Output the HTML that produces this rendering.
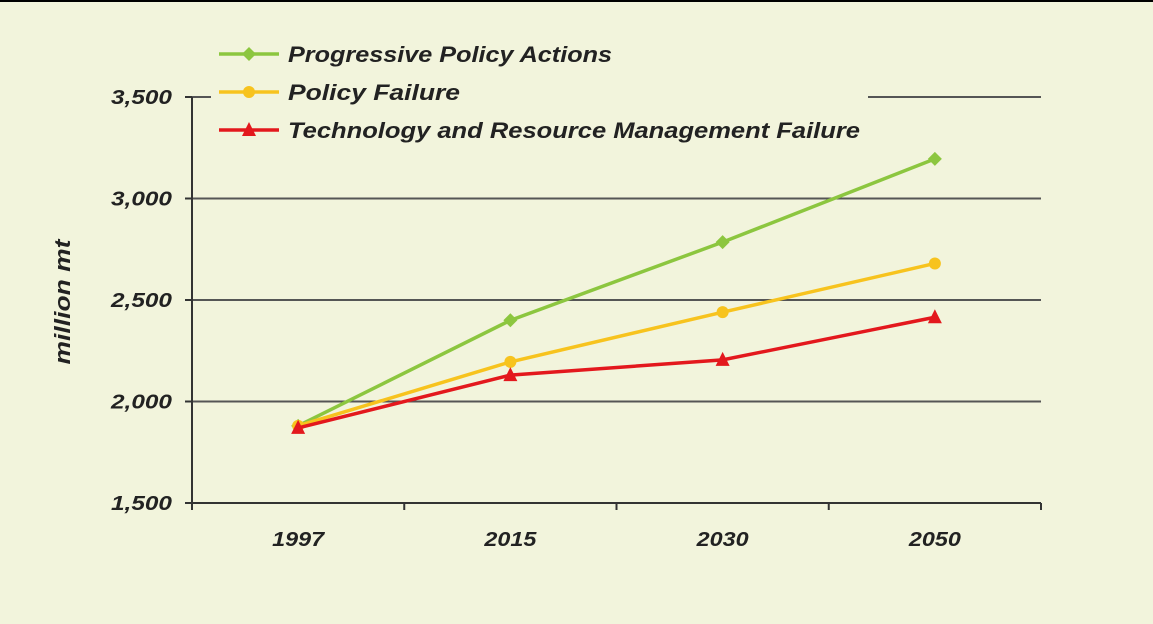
<!DOCTYPE html>
<html><head><meta charset="utf-8"><style>
html,body{margin:0;padding:0;background:#f2f4dc;}
svg{display:block;font-family:"Liberation Sans",Arial,sans-serif;font-weight:bold;font-style:italic;}
</style></head><body>
<svg id="chart" width="1153" height="624" viewBox="0 0 1153 624">
<rect x="0" y="0" width="1153" height="624" fill="#f2f4dc"/>
<rect x="0" y="0" width="1153" height="2" fill="#000"/>
<g id="grid"></g>
<g id="axes"></g>
<g id="series"></g>
<g id="legend"></g>
<text x="70" y="302" transform="rotate(-90 70 302)" text-anchor="middle" font-size="22" textLength="125" lengthAdjust="spacingAndGlyphs" fill="#222">million mt</text>
</svg>
<script>
const categories = ["1997","2015","2030","2050"];
const yTicks = [1500,2000,2500,3000,3500];
const yTickLabels = ["1,500","2,000","2,500","3,000","3,500"];
const progressive = [1880,2400,2785,3195];
const policyFailure = [1880,2195,2440,2680];
const techFailure = [1870,2130,2205,2415];
const seriesNames = ["Progressive Policy Actions","Policy Failure","Technology and Resource Management Failure"];
const legendWidths = [324,172,572];

const NS="http://www.w3.org/2000/svg";
const X0=192,X1=1041,Y0=503,Y1=97,VMIN=1500,VMAX=3500;
const yS=v=>Y0-(v-VMIN)/(VMAX-VMIN)*(Y0-Y1);
const band=(X1-X0)/categories.length;
const xS=i=>X0+band*(i+0.5);
function mk(tag,attrs,parent){const e=document.createElementNS(NS,tag);for(const k in attrs)e.setAttribute(k,attrs[k]);parent.appendChild(e);return e;}
const grid=document.getElementById('grid'),axes=document.getElementById('axes'),ser=document.getElementById('series'),leg=document.getElementById('legend');

yTicks.forEach((v,i)=>{
  const y=yS(v);
  if(v>VMIN){const g=mk('line',{x1:X0,x2:X1,y1:y,y2:y,stroke:'#555',"stroke-width":2},grid);
  
  }
  const t=mk('line',{x1:X0-7,x2:X0,y1:y,y2:y,stroke:'#333',"stroke-width":2},axes);
  
  
  const l=mk('text',{x:172,y:y+7,"text-anchor":"end","font-size":20,textLength:61,lengthAdjust:"spacingAndGlyphs",fill:'#222'},axes);
  l.textContent=yTickLabels[i];
  
  
});
const ya=mk('line',{x1:X0,x2:X0,y1:Y1,y2:Y0,stroke:'#333',"stroke-width":2},axes);


const xa=mk('line',{x1:X0,x2:X1,y1:Y0,y2:Y0,stroke:'#333',"stroke-width":2},axes);


for(let i=0;i<=categories.length;i++){
  const x=X0+band*i;
  const t=mk('line',{x1:x,x2:x,y1:Y0,y2:Y0+7,stroke:'#333',"stroke-width":2},axes);
  
  
}
categories.forEach((c,i)=>{
  const l=mk('text',{x:xS(i),y:546,"text-anchor":"middle","font-size":20,textLength:52,lengthAdjust:"spacingAndGlyphs",fill:'#222'},axes);
  l.textContent=c;
  
  
});

function marker(type,cx,cy,color,parent){
  let e;
  if(type==='diamond') e=mk('polygon',{points:`${cx},${cy-7} ${cx+7},${cy} ${cx},${cy+7} ${cx-7},${cy}`,fill:color},parent);
  else if(type==='circle') e=mk('circle',{cx:cx,cy:cy,r:6,fill:color},parent);
  else e=mk('polygon',{points:`${cx},${cy-8} ${cx+7},${cy+6} ${cx-7},${cy+6}`,fill:color},parent);
  return e;
}
const defs=[[progressive,'#8cc63f','diamond'],[policyFailure,'#f7c31e','circle'],[techFailure,'#e3181d','triangle']];
defs.forEach(([vals,color,type],si)=>{
  const pts=vals.map((v,i)=>xS(i)+','+yS(v)).join(' ');
  const pl=mk('polyline',{points:pts,fill:'none',stroke:color,"stroke-width":3.5},ser);
  
  
  vals.forEach((v,i)=>{
    const m=marker(type,xS(i),yS(v),color,ser);
    
    
  });
});

const bg=mk('rect',{x:211,y:35,width:657,height:115,fill:'#f2f4dc'},leg);


defs.forEach(([vals,color,type],si)=>{
  const y=54+si*38;
  const g=mk('g',{},leg);
  
  
  mk('line',{x1:219,x2:279,y1:y,y2:y,stroke:color,"stroke-width":3.5},g);
  marker(type,249,y,color,g);
  const t=mk('text',{x:288,y:y+8,"font-size":22,textLength:legendWidths[si],lengthAdjust:"spacingAndGlyphs",fill:'#222'},g);
  t.textContent=seriesNames[si];
});
</script>
</body></html>
